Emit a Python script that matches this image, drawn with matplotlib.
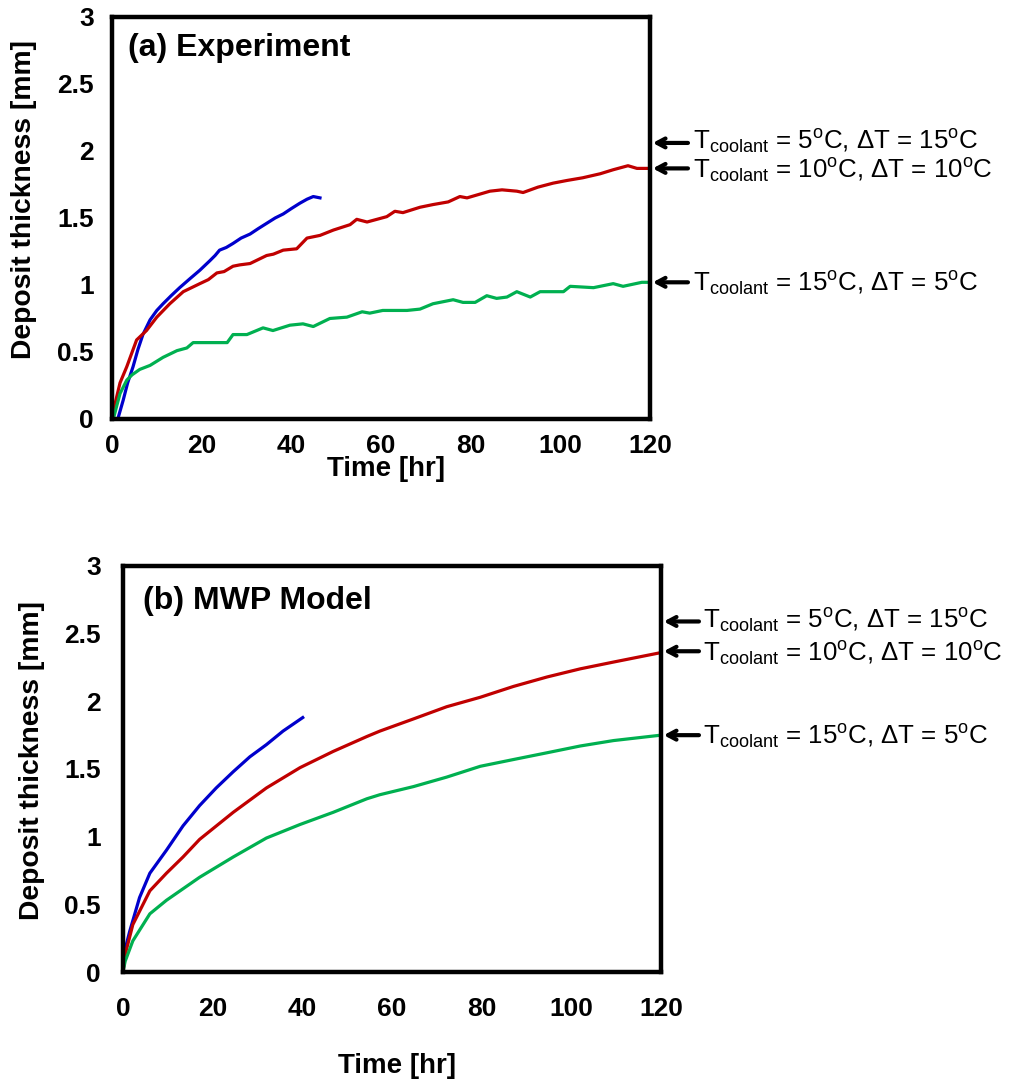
import matplotlib
matplotlib.use("Agg")
import matplotlib.pyplot as plt
import numpy as np

plt.rcParams["font.family"] = ["Liberation Sans", "DejaVu Sans"]
plt.rcParams["mathtext.fontset"] = "custom"
plt.rcParams["mathtext.rm"] = "Liberation Sans"
plt.rcParams["mathtext.it"] = "Liberation Sans:italic"
plt.rcParams["mathtext.bf"] = "Liberation Sans:bold"

BLUE = "#0000cc"
RED = "#c00000"
GREEN = "#00b050"

# (a) experiment, deposit thickness [mm] vs time [hr]
exp_blue_t = [1.3, 2.5, 3.5, 4.7, 5.8, 6.9, 8.5, 10.0, 11.4, 13.2, 15.1, 17.5,
              19.6, 21.8, 23.0, 24.0, 25.5, 27.0, 28.8, 30.8, 32.6, 34.5,
              36.4, 38.2, 40.0, 41.9, 43.5, 44.9, 46.4]
exp_blue_y = [0.0, 0.14, 0.27, 0.39, 0.52, 0.63, 0.74, 0.81, 0.86, 0.92, 0.98, 1.05,
              1.11, 1.18, 1.22, 1.26, 1.28, 1.31, 1.35, 1.38, 1.42, 1.46,
              1.50, 1.53, 1.57, 1.61, 1.64, 1.66, 1.65]

exp_red_t = [0.0, 0.8, 1.8, 3.3, 4.4, 5.5, 7.7, 10.0, 12.9, 15.9, 19.6, 21.5,
             23.4, 25.0, 27.0, 28.5, 30.8, 34.5, 36.0, 38.2, 41.2, 43.5, 46.4,
             49.4, 53.1, 54.6, 56.9, 61.3, 63.1, 64.9, 68.7, 71.6, 75.0, 77.6,
             79.2, 84.3, 87.0, 90.3, 91.7, 95.0, 98.4, 101.5, 105.0, 108.9,
             111.8, 115.1, 117.1, 120.0]
exp_red_y = [0.0, 0.13, 0.27, 0.39, 0.49, 0.59, 0.66, 0.76, 0.86, 0.95, 1.01, 1.04,
             1.09, 1.10, 1.14, 1.15, 1.16, 1.22, 1.23, 1.26, 1.27, 1.35, 1.37,
             1.41, 1.45, 1.49, 1.47, 1.51, 1.55, 1.54, 1.58, 1.60, 1.62, 1.66,
             1.65, 1.70, 1.71, 1.70, 1.69, 1.73, 1.76, 1.78, 1.80, 1.83,
             1.86, 1.89, 1.87, 1.87]

exp_green_t = [0.3, 1.0, 1.8, 3.3, 4.5, 6.2, 8.5, 11.4, 14.5, 16.7, 18.1, 22.5,
               25.7, 27.0, 30.1, 33.7, 35.9, 39.7, 42.6, 44.9, 48.6, 52.4,
               55.8, 57.5, 60.4, 65.8, 68.7, 71.6, 76.1, 78.3, 81.0, 83.6,
               85.8, 88.1, 90.3, 93.3, 95.5, 100.7, 102.2, 107.4, 111.8,
               114.0, 118.2, 120.0]
exp_green_y = [0.0, 0.09, 0.19, 0.29, 0.33, 0.37, 0.40, 0.46, 0.51, 0.53, 0.57, 0.57,
               0.57, 0.63, 0.63, 0.68, 0.66, 0.70, 0.71, 0.69, 0.75, 0.76,
               0.80, 0.79, 0.81, 0.81, 0.82, 0.86, 0.89, 0.87, 0.87, 0.92,
               0.90, 0.91, 0.95, 0.91, 0.95, 0.95, 0.99, 0.98, 1.01,
               0.99, 1.02, 1.02]

# (b) MWP model
mod_blue_t = [0.0, 0.5, 1.5, 3.7, 6.0, 9.7, 13.4, 17.1, 20.8, 24.6, 28.3, 32.0,
              35.7, 40.1]
mod_blue_y = [0.0, 0.17, 0.30, 0.55, 0.73, 0.90, 1.08, 1.23, 1.36, 1.48, 1.59, 1.68,
              1.78, 1.88]

mod_red_t = [0.0, 0.5, 2.2, 6.0, 9.7, 13.4, 17.1, 24.6, 32.0, 39.5, 46.9, 54.4,
             57.3, 64.8, 72.2, 79.7, 87.1, 94.6, 102.0, 109.4, 120.0]
mod_red_y = [0.0, 0.13, 0.35, 0.60, 0.73, 0.85, 0.98, 1.18, 1.36, 1.51, 1.63, 1.74,
             1.78, 1.87, 1.96, 2.03, 2.11, 2.18, 2.24, 2.29, 2.36]

mod_green_t = [0.0, 0.5, 2.2, 6.0, 9.7, 17.1, 24.6, 32.0, 39.5, 46.9, 54.4,
               57.3, 64.8, 72.2, 79.7, 87.1, 94.6, 102.0, 109.4, 120.0]
mod_green_y = [0.0, 0.08, 0.23, 0.43, 0.53, 0.70, 0.85, 0.99, 1.09, 1.18, 1.28,
               1.31, 1.37, 1.44, 1.52, 1.57, 1.62, 1.67, 1.71, 1.75]

case_labels = [
    r"T$_{\mathrm{coolant}}$ = 5$^{\mathrm{o}}$C, ΔT = 15$^{\mathrm{o}}$C",
    r"T$_{\mathrm{coolant}}$ = 10$^{\mathrm{o}}$C, ΔT = 10$^{\mathrm{o}}$C",
    r"T$_{\mathrm{coolant}}$ = 15$^{\mathrm{o}}$C, ΔT = 5$^{\mathrm{o}}$C",
]
exp_arrow_y = [2.06, 1.87, 1.02]
mod_arrow_y = [2.59, 2.37, 1.75]
# baseline shift of each label below its arrow, in pixels
label_drop = [7, 10, 9]

x_ticks = [0, 20, 40, 60, 80, 100, 120]
y_ticks = [0, 0.5, 1, 1.5, 2, 2.5, 3]
y_tick_labels = ["0", "0.5", "1", "1.5", "2", "2.5", "3"]


def style_axes(ax, xpad, ypad):
    ax.set_xlim(0, 120)
    ax.set_ylim(0, 3)
    ax.set_xticks(x_ticks)
    ax.set_yticks(y_ticks)
    ax.set_yticklabels(y_tick_labels)
    ax.tick_params(length=0, labelsize=19)
    ax.tick_params(axis="x", pad=xpad)
    ax.tick_params(axis="y", pad=ypad)
    for lab in ax.get_xticklabels() + ax.get_yticklabels():
        lab.set_fontweight("bold")
    for sp in ax.spines.values():
        sp.set_linewidth(3.2)
        sp.set_color("black")


def add_case_arrows(ax, ys, text_dx):
    for lab, yv, drop in zip(case_labels, ys, label_drop):
        ax.annotate("", xy=(120, yv), xycoords="data",
                    xytext=(38, 0), textcoords="offset pixels",
                    arrowprops=dict(arrowstyle="->,head_length=0.6,head_width=0.32",
                                    lw=3.0, color="black", shrinkA=0, shrinkB=2),
                    annotation_clip=False)
        ax.annotate(lab, xy=(120, yv), xycoords="data",
                    xytext=(text_dx, -drop), textcoords="offset pixels",
                    ha="left", va="baseline", fontsize=18.6,
                    annotation_clip=False)


fig = plt.figure(figsize=(10.17, 10.88), dpi=100)

# (a) Experiment
ax1 = fig.add_axes([0.1101, 0.6149, 0.529, 0.3695])
ax1.plot(exp_blue_t, exp_blue_y, color=BLUE, lw=2.3)
ax1.plot(exp_red_t, exp_red_y, color=RED, lw=2.3)
ax1.plot(exp_green_t, exp_green_y, color=GREEN, lw=2.3)
style_axes(ax1, xpad=11, ypad=13)
ax1.set_xlabel("Time [hr]", fontsize=20, fontweight="bold")
ax1.set_ylabel("Deposit thickness [mm]", fontsize=20.3, fontweight="bold")
ax1.xaxis.set_label_coords(0.51, -0.093)
ax1.yaxis.set_label_coords(-0.14, 0.547)
ax1.text(0.03, 0.96, "(a) Experiment", transform=ax1.transAxes,
         ha="left", va="top", fontsize=23, fontweight="bold")
add_case_arrows(ax1, exp_arrow_y, 43)

# (b) MWP Model
ax2 = fig.add_axes([0.1209, 0.1066, 0.529, 0.3732])
ax2.plot(mod_blue_t, mod_blue_y, color=BLUE, lw=2.3)
ax2.plot(mod_red_t, mod_red_y, color=RED, lw=2.3)
ax2.plot(mod_green_t, mod_green_y, color=GREEN, lw=2.3)
style_axes(ax2, xpad=18, ypad=16)
ax2.set_xlabel("Time [hr]", fontsize=20, fontweight="bold")
ax2.set_ylabel("Deposit thickness [mm]", fontsize=20.3, fontweight="bold")
ax2.xaxis.set_label_coords(0.51, -0.2)
ax2.yaxis.set_label_coords(-0.145, 0.52)
ax2.text(0.037, 0.95, "(b) MWP Model", transform=ax2.transAxes,
         ha="left", va="top", fontsize=23, fontweight="bold")
add_case_arrows(ax2, mod_arrow_y, 42)

fig.savefig("out.png", dpi=100)
